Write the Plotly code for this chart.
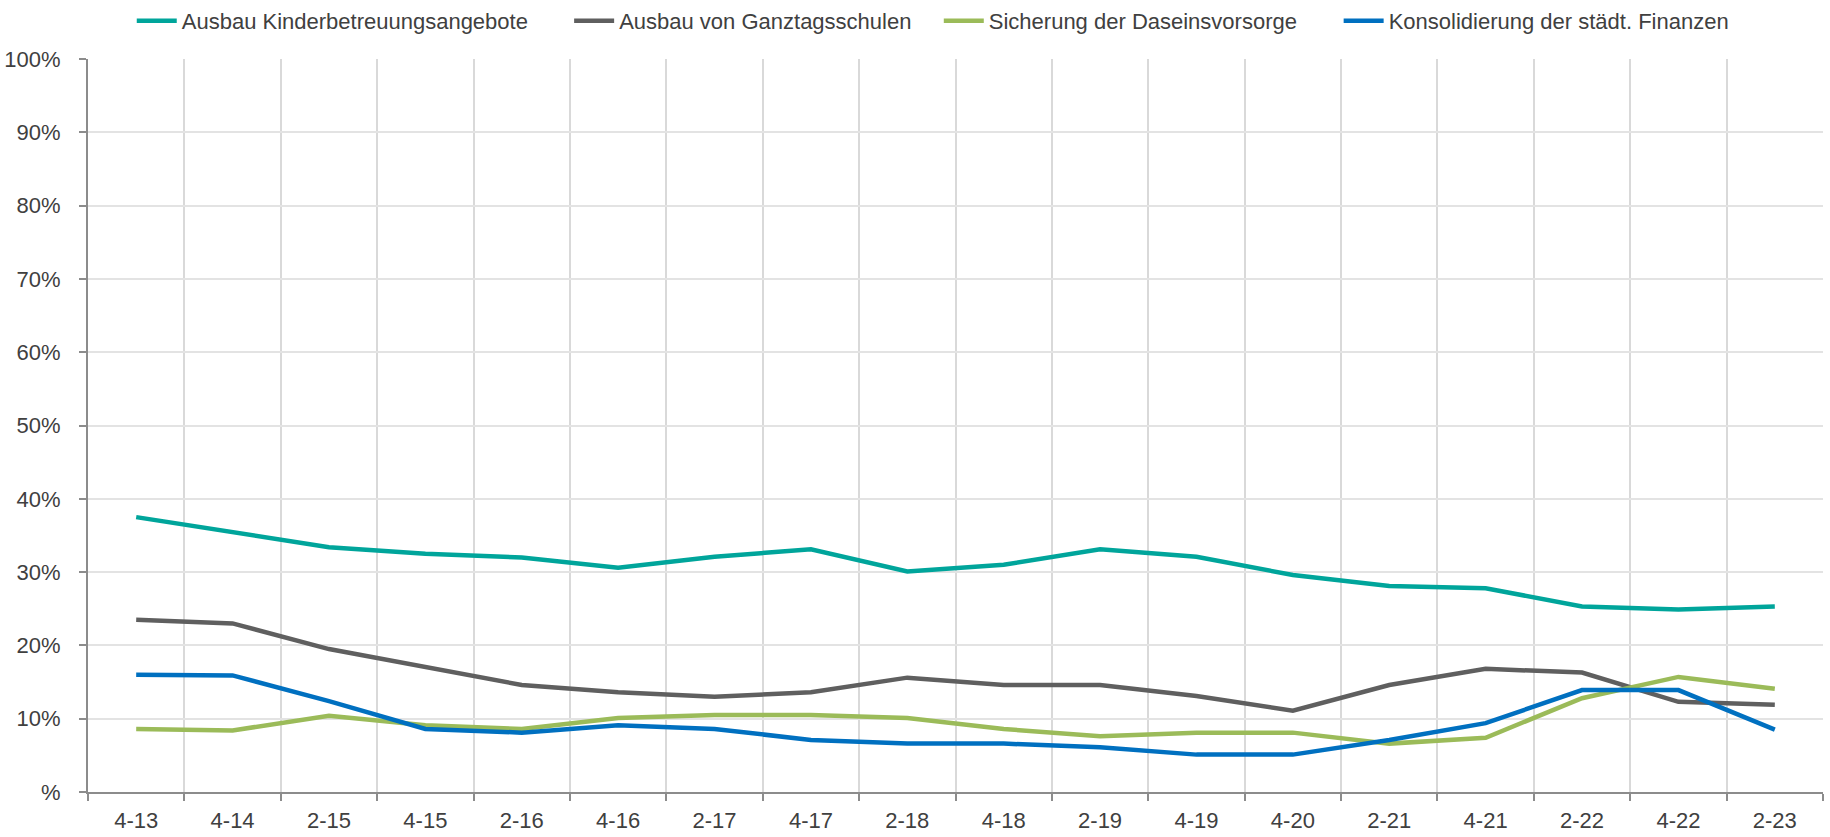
import plotly.graph_objects as go

categories = ["4-13", "4-14", "2-15", "4-15", "2-16", "4-16", "2-17", "4-17", "2-18",
              "4-18", "2-19", "4-19", "4-20", "2-21", "4-21", "2-22", "4-22", "2-23"]

kinderbetreuung = [37.5, 35.5, 33.4, 32.5, 32.0, 30.6, 32.1, 33.1, 30.1,
                   31.0, 33.1, 32.1, 29.6, 28.1, 27.8, 25.3, 24.9, 25.3]
ganztagsschulen = [23.5, 23.0, 19.5, 17.0, 14.6, 13.6, 13.0, 13.6, 15.6,
                   14.6, 14.6, 13.1, 11.1, 14.6, 16.8, 16.3, 12.3, 11.9]
daseinsvorsorge = [8.6, 8.4, 10.4, 9.1, 8.6, 10.1, 10.5, 10.5, 10.1,
                   8.6, 7.6, 8.1, 8.1, 6.6, 7.4, 12.8, 15.7, 14.1]
finanzen = [16.0, 15.9, 12.4, 8.6, 8.1, 9.1, 8.6, 7.1, 6.6,
            6.6, 6.1, 5.1, 5.1, 7.1, 9.4, 13.9, 13.9, 8.5]

series_names = ["Ausbau Kinderbetreuungsangebote", "Ausbau von Ganztagsschulen",
                "Sicherung der Daseinsvorsorge", "Konsolidierung der städt. Finanzen"]
series_values = [kinderbetreuung, ganztagsschulen, daseinsvorsorge, finanzen]
colors = ["#00A59B", "#5F5F5F", "#9BBB59", "#0070C0"]
legend_ids = ["legend", "legend2", "legend3", "legend4"]
legend_x = [0.072, 0.311, 0.513, 0.7315]  # left edge of each legend entry (container fraction)

y_tickvals = [0, 10, 20, 30, 40, 50, 60, 70, 80, 90, 100]
y_ticktext = ["%", "10%", "20%", "30%", "40%", "50%", "60%", "70%", "80%", "90%", "100%"]

font_family = "Liberation Sans, Arial, sans-serif"
text_color = "#404040"
fsize = 22

fig = go.Figure()
for name, vals, col, lg in zip(series_names, series_values, colors, legend_ids):
    fig.add_trace(go.Scatter(x=categories, y=vals, name=name, mode="lines",
                             line=dict(color=col, width=4.5), legend=lg))

fig.update_layout(
    width=1830, height=837,
    margin=dict(l=88, r=7, t=59, b=45, autoexpand=False),
    plot_bgcolor="white", paper_bgcolor="white",
    font=dict(family=font_family, size=fsize, color=text_color),
    showlegend=True,
)
for lg, lx in zip(legend_ids, legend_x):
    fig.update_layout({lg: dict(orientation="h", x=lx, xanchor="left", xref="container",
                                y=1.0, yanchor="top", yref="container",
                                font=dict(size=fsize, color=text_color),
                                itemwidth=40, bgcolor="rgba(0,0,0,0)")})

fig.update_xaxes(type="category", range=[-0.5, 17.5], tickson="boundaries",
                 showgrid=True, gridcolor="#D9D9D9", gridwidth=1.5,
                 showline=True, linecolor="#8C8C8C", linewidth=2,
                 ticks="outside", ticklen=7, tickcolor="#8C8C8C", tickwidth=1.5,
                 ticklabelstandoff=8, tickfont=dict(size=fsize, color=text_color))
fig.update_yaxes(range=[0, 100], tickvals=y_tickvals, ticktext=y_ticktext,
                 showgrid=True, gridcolor="#E3E3E3", gridwidth=1.5,
                 showline=True, linecolor="#8C8C8C", linewidth=2,
                 ticks="outside", ticklen=7, tickcolor="#8C8C8C", tickwidth=1.5,
                 ticklabelstandoff=14, zeroline=False,
                 tickfont=dict(size=fsize, color=text_color))

fig.write_html("out.html", config={"displayModeBar": False},
               post_script="document.body.style.margin='0';")
